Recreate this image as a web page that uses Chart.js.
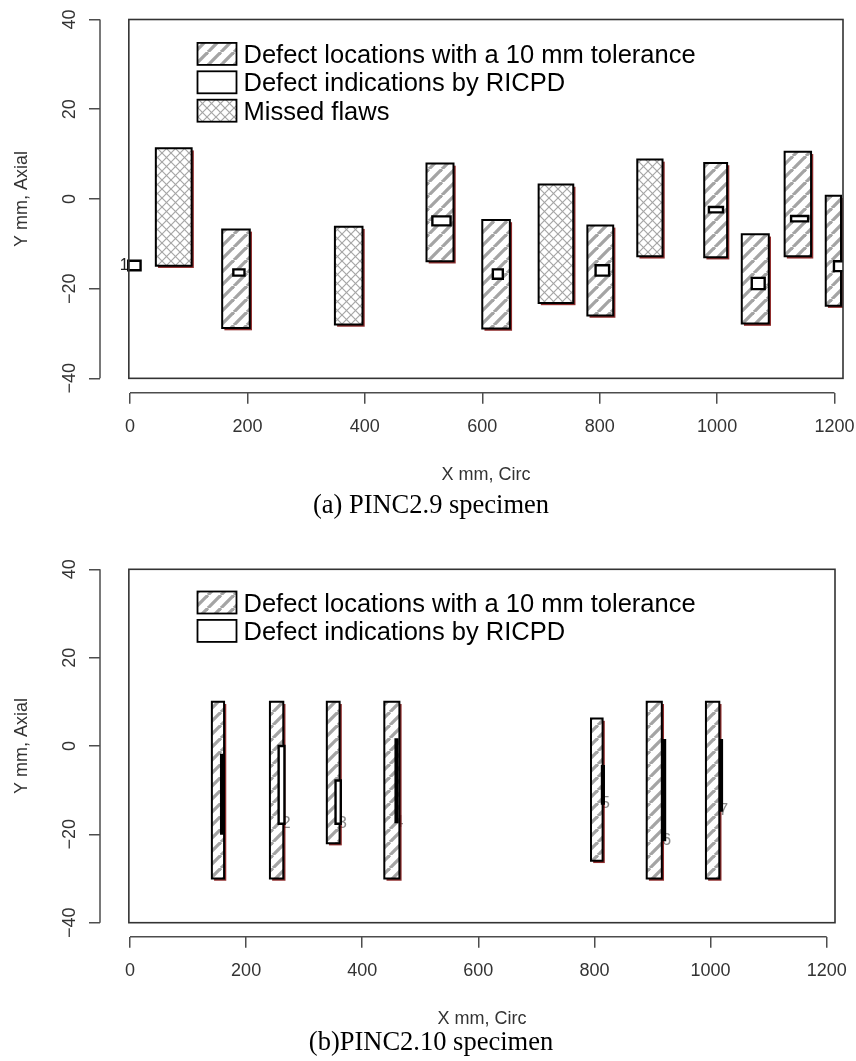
<!DOCTYPE html>
<html>
<head>
<meta charset="utf-8">
<script src="https://cdn.jsdelivr.net/npm/chart.js"></script>
<style>
  html, body { margin: 0; padding: 0; background: #fff; }
  body { width: 856px; height: 1061px; position: relative; overflow: hidden; }
  canvas { position: absolute; left: 0; }
  #chartA { top: 0; }
  #chartB { top: 530px; }
  .caption {
    position: absolute; left: 0; width: 862px; text-align: center;
    font-family: 'Liberation Serif', 'Times New Roman', serif;
    font-size: 26.5px; line-height: 30px; color: #000; white-space: nowrap;
  }
</style>
</head>
<body>
<canvas id="chartA" width="856" height="490"></canvas>
<canvas id="chartB" width="856" height="500"></canvas>
<div class="caption" style="top:489px">(a) PINC2.9 specimen</div>
<div class="caption" style="top:1026px">(b)PINC2.10 specimen</div>

<script>
// Axis tick values (mm)
const xTickValues = [0, 200, 400, 600, 800, 1000, 1200];
const yTickValues = [-40, -20, 0, 20, 40];

// Legend entries
const legendLocations = 'Defect locations with a 10 mm tolerance';
const legendIndications = 'Defect indications by RICPD';
const legendMissed = 'Missed flaws';

// PINC2.9 specimen, each rectangle as [xStart, xEnd, yStart, yEnd] in mm
const pinc29Locations = [
  [157, 204, -28.8, -6.8],
  [505, 551, -13.9, 7.9],
  [600, 647, -28.9, -4.7],
  [779, 823, -26.0, -5.9],
  [978, 1017, -13.0, 8.0],
  [1042, 1088, -27.8, -7.9],
  [1115, 1160, -12.8, 10.5],
  [1185, 1211, -23.8, 0.7]
];
const pinc29Missed = [
  [44, 105, -14.9, 11.3],
  [349, 396, -28.0, -6.2],
  [696, 755, -23.2, 3.2],
  [864, 907, -12.8, 8.8]
];
const pinc29Indications = [
  [-3, 18, -15.9, -13.8],
  [176, 195, -17.1, -15.7],
  [515, 546, -5.9, -3.9],
  [618, 635, -17.8, -15.7],
  [793, 816, -17.1, -14.8],
  [986, 1010, -3.0, -1.8],
  [1059, 1081, -20.1, -17.6],
  [1126, 1155, -5.0, -3.8],
  [1199, 1224, -16.1, -13.9]
];
const pinc29IndicationLabels = ['1'];

// PINC2.10 specimen
const pinc210Locations = [
  [141, 162, -30, 10],
  [241, 264, -30, 10],
  [339, 361, -22, 10],
  [438, 464, -30, 10],
  [794, 814, -26, 6.2],
  [890, 916, -30, 10],
  [992, 1015, -30, 10]
];
const pinc210Indications = [
  [157, 160, -19.8, -2.0],
  [256, 266, -17.6, 0],
  [354, 363, -17.6, -7.8],
  [457.5, 460.5, -17.2, 1.5],
  [813, 816, -13.0, -4.6],
  [918.5, 921.5, -21.3, 1.3],
  [1016.5, 1019.5, -14.6, 1.3]
];
// the first indication carries no number
const pinc210IndicationLabels = ['', '2', '3', '4', '5', '6', '7'];

// Plot region frame and axis limits
const frameX = [-2, 1214.4];
const frameY = [-40, 40];
const limitsA = { x: [-51.1, 1214.4], y: [-43.2, 40] };
const limitsB = { x: [-51.7, 1214.3], y: [-43.17, 40] };

const SANS = "'Liberation Sans', Arial, Helvetica, sans-serif";
const fmt = v => (v < 0 ? '\u2212' + (-v) : String(v));

function makeHatch() {
  const s = 13, c = document.createElement('canvas');
  c.width = s; c.height = s;
  const g = c.getContext('2d');
  g.fillStyle = '#fff'; g.fillRect(0, 0, s, s);
  g.strokeStyle = '#a4a4a4'; g.lineWidth = 3.3;
  for (let k = -1; k <= 1; k++) {
    g.beginPath(); g.moveTo(k * s, s); g.lineTo(k * s + s, 0); g.stroke();
  }
  return g.createPattern(c, 'repeat');
}
function makeCrossHatch() {
  const s = 9, c = document.createElement('canvas');
  c.width = s; c.height = s;
  const g = c.getContext('2d');
  g.fillStyle = '#fff'; g.fillRect(0, 0, s, s);
  g.strokeStyle = '#a6a6a6'; g.lineWidth = 1.2;
  for (let k = -1; k <= 1; k++) {
    g.beginPath(); g.moveTo(k * s, s); g.lineTo(k * s + s, 0); g.stroke();
    g.beginPath(); g.moveTo(k * s, 0); g.lineTo(k * s + s, s); g.stroke();
  }
  return g.createPattern(c, 'repeat');
}
const hatch = makeHatch();
const crossHatch = makeCrossHatch();

// layer: lower numbers are painted on top
function rectDataset(r, fill, width, layer) {
  const [x0, x1, y0, y1] = r;
  return {
    data: [{x: x0, y: y0}, {x: x1, y: y0}, {x: x1, y: y1}, {x: x0, y: y1}, {x: x0, y: y0}],
    showLine: true, fill: 'shape', backgroundColor: fill,
    borderColor: '#000', borderWidth: width,
    borderJoinStyle: 'miter', borderCapStyle: 'square',
    pointRadius: 0, pointHoverRadius: 0, tension: 0,
    order: layer
  };
}

function framePlugin(spec) {
  return {
    id: 'frame',
    beforeDatasetsDraw(chart) {
      const ctx = chart.ctx, xs = chart.scales.x, ys = chart.scales.y, a = chart.chartArea;
      ctx.save();
      ctx.beginPath(); ctx.rect(a.left, a.top, a.right - a.left, a.bottom - a.top); ctx.clip();
      // indication numbers sit underneath the rectangles
      ctx.font = spec.labelFont; ctx.fillStyle = spec.labelColor;
      ctx.textAlign = 'center'; ctx.textBaseline = 'middle';
      spec.labels.forEach((t, i) => {
        if (!t) return;
        const p = spec.labelAt(spec.indications[i]);
        ctx.fillText(t, xs.getPixelForValue(p[0]), ys.getPixelForValue(p[1]));
      });
      // dark red edge along the right and bottom of the patterned rectangles
      ctx.fillStyle = 'rgba(125,8,8,0.85)';
      spec.shaded.forEach(r => {
        const l = xs.getPixelForValue(r[0]), rr = xs.getPixelForValue(r[1]);
        const t = ys.getPixelForValue(r[3]), b = ys.getPixelForValue(r[2]);
        ctx.fillRect(l + 2.2, t + 2.2, rr - l, b - t);
      });
      ctx.restore();
    },
    afterDatasetsDraw(chart) {
      const ctx = chart.ctx, xs = chart.scales.x, ys = chart.scales.y, a = chart.chartArea;
      ctx.save();
      // plot region box
      const bl = xs.getPixelForValue(frameX[0]), br = Math.min(xs.getPixelForValue(frameX[1]), a.right);
      const bt = ys.getPixelForValue(frameY[1]), bb = ys.getPixelForValue(frameY[0]);
      ctx.strokeStyle = '#333'; ctx.lineWidth = 1.6;
      ctx.strokeRect(bl, bt, br - bl, bb - bt);
      // axis lines spanning the first to last tick
      ctx.strokeStyle = '#4d4d4d'; ctx.lineWidth = 1.5;
      ctx.beginPath();
      ctx.moveTo(a.left, ys.getPixelForValue(yTickValues[0]));
      ctx.lineTo(a.left, ys.getPixelForValue(yTickValues[yTickValues.length - 1]));
      ctx.moveTo(xs.getPixelForValue(xTickValues[0]), a.bottom);
      ctx.lineTo(xs.getPixelForValue(xTickValues[xTickValues.length - 1]), a.bottom);
      ctx.stroke();
      // axis titles
      ctx.fillStyle = '#333'; ctx.font = '18px ' + SANS;
      ctx.textAlign = 'center'; ctx.textBaseline = 'alphabetic';
      ctx.fillText('X mm, Circ', (bl + br) / 2, a.bottom + 87);
      ctx.save();
      ctx.translate(22.5, (bt + bb) / 2); ctx.rotate(-Math.PI / 2);
      ctx.textBaseline = 'middle';
      ctx.fillText('Y mm, Axial', 0, 0);
      ctx.restore();
      // legend
      ctx.font = '25.5px ' + SANS;
      ctx.textAlign = 'left'; ctx.textBaseline = 'alphabetic';
      spec.legend.forEach((item, i) => {
        const cy = a.top + spec.legendTop + i * 28.4;
        ctx.fillStyle = item.fill;
        ctx.fillRect(197.5, cy - 11, 39, 22);
        ctx.strokeStyle = '#000'; ctx.lineWidth = 1.8;
        ctx.strokeRect(197.5, cy - 11, 39, 22);
        ctx.fillStyle = '#000';
        ctx.fillText(item.text, 243.5, cy + 9);
      });
      ctx.restore();
    }
  };
}

function chartOptions(lim, pad, xScaleHeight) {
  return {
    responsive: false, animation: false, events: [],
    layout: { padding: pad },
    plugins: { legend: { display: false }, tooltip: { enabled: false }, title: { display: false } },
    scales: {
      x: {
        type: 'linear', position: 'bottom', min: lim.x[0], max: lim.x[1],
        afterBuildTicks: s => { s.ticks = xTickValues.map(v => ({ value: v })); },
        afterFit: s => { s.height = xScaleHeight; s.paddingLeft = 0; s.paddingRight = 0; },
        ticks: { autoSkip: false, minRotation: 0, maxRotation: 0, padding: 13, color: '#333',
                 font: { family: SANS, size: 18 }, callback: fmt },
        grid: { drawOnChartArea: false, drawTicks: true, tickLength: 11,
                color: '#4d4d4d', tickColor: '#4d4d4d', lineWidth: 1.5, tickWidth: 1.5 },
        border: { display: false }
      },
      y: {
        type: 'linear', position: 'left', min: lim.y[0], max: lim.y[1],
        afterBuildTicks: s => { s.ticks = yTickValues.map(v => ({ value: v })); },
        afterFit: s => { s.width = 100; s.paddingTop = 0; s.paddingBottom = 0; },
        ticks: { minRotation: 90, maxRotation: 90, crossAlign: 'center', padding: 4, color: '#333',
                 font: { family: SANS, size: 18 }, callback: fmt },
        grid: { drawOnChartArea: false, drawTicks: true, tickLength: 11,
                color: '#4d4d4d', tickColor: '#4d4d4d', lineWidth: 1.5, tickWidth: 1.5 },
        border: { display: false }
      }
    }
  };
}

// (a) PINC2.9
new Chart(document.getElementById('chartA'), {
  type: 'scatter',
  data: {
    datasets: [
      ...pinc29Locations.map(r => rectDataset(r, hatch, 2, 3)),
      ...pinc29Missed.map(r => rectDataset(r, crossHatch, 2, 2)),
      ...pinc29Indications.map(r => rectDataset(r, '#fff', 2.4, 1))
    ]
  },
  options: chartOptions(limitsA, { top: 19.5, right: 13, bottom: 0, left: 0 }, 97.3),
  plugins: [framePlugin({
    indications: pinc29Indications,
    labels: pinc29IndicationLabels,
    labelAt: r => [r[0] - 7, (r[2] + r[3]) / 2],
    labelFont: '16px ' + SANS, labelColor: '#222',
    shaded: [...pinc29Locations, ...pinc29Missed],
    legendTop: 34.4,
    legend: [
      { text: legendLocations, fill: hatch },
      { text: legendIndications, fill: '#fff' },
      { text: legendMissed, fill: crossHatch }
    ]
  })]
});

// (b) PINC2.10
new Chart(document.getElementById('chartB'), {
  type: 'scatter',
  data: {
    datasets: [
      ...pinc210Locations.map(r => rectDataset(r, hatch, 2, 3)),
      ...pinc210Indications.map(r => rectDataset(r, '#fff', 2.4, 1))
    ]
  },
  options: chartOptions(limitsB, { top: 39.3, right: 21, bottom: 0, left: 0 }, 93.3),
  plugins: [framePlugin({
    indications: pinc210Indications,
    labels: pinc210IndicationLabels,
    labelAt: r => [r[1] + 2.5, r[2]],
    labelFont: '17px ' + SANS, labelColor: '#8a8a8a',
    shaded: pinc210Locations,
    legendTop: 33.2,
    legend: [
      { text: legendLocations, fill: hatch },
      { text: legendIndications, fill: '#fff' }
    ]
  })]
});
</script>
</body>
</html>
